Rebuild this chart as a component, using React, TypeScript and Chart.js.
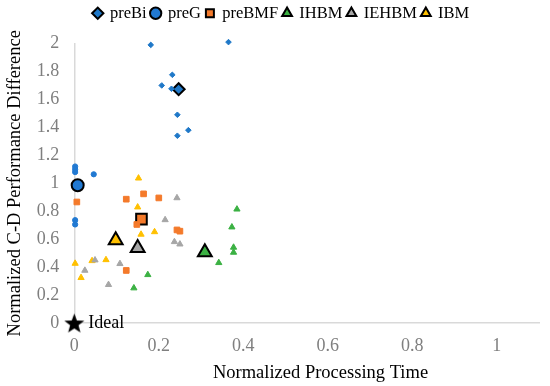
import React, { useEffect, useRef } from "react";
import { Chart, registerables } from "chart.js";

Chart.register(...registerables);

// [x, y] pairs; first entry of each series is the highlighted (average) marker
const preBi: [number, number][] = [
  [0.247, 1.673],
  [0.181, 1.99], [0.365, 2.01], [0.232, 1.776], [0.207, 1.70],
  [0.230, 1.676], [0.244, 1.49], [0.270, 1.38], [0.244, 1.34],
];
const preG: [number, number][] = [
  [0.008, 0.986],
  [0.002, 1.12], [0.002, 1.10], [0.002, 1.08], [0.046, 1.064],
  [0.002, 0.736], [0.002, 0.705],
];
const preBMF: [number, number][] = [
  [0.159, 0.743],
  [0.006, 0.866], [0.123, 0.886], [0.164, 0.924], [0.200, 0.895],
  [0.148, 0.705], [0.243, 0.666], [0.250, 0.657], [0.123, 0.376],
];
const IHBM: [number, number][] = [
  [0.309, 0.507],
  [0.385, 0.814], [0.373, 0.686], [0.377, 0.541], [0.377, 0.505],
  [0.342, 0.431], [0.174, 0.345], [0.141, 0.25],
];
const IEHBM: [number, number][] = [
  [0.150, 0.536],
  [0.243, 0.895], [0.215, 0.738], [0.237, 0.581], [0.250, 0.564],
  [0.049, 0.45], [0.108, 0.424], [0.025, 0.376], [0.081, 0.274],
];
const IBM: [number, number][] = [
  [0.098, 0.593],
  [0.152, 1.036], [0.150, 0.829], [0.190, 0.652], [0.158, 0.634],
  [0.002, 0.426], [0.042, 0.445], [0.075, 0.452], [0.016, 0.324],
];
const ideal: [number, number][] = [[0, 0]];

const xTitle = "Normalized Processing Time";
const yTitle = "Normalized C-D Performance Difference";
const idealLabel = "Ideal";

const FONT = "'Liberation Serif', 'Times New Roman', serif";
Chart.defaults.font.family = FONT;

function makeStar(size: number): HTMLCanvasElement {
  const c = document.createElement("canvas");
  c.width = size;
  c.height = size;
  const ctx = c.getContext("2d")!;
  const cx = size / 2;
  const cy = size / 2 + 1;
  const R = size / 2;
  const r = R * 0.42;
  ctx.beginPath();
  for (let i = 0; i < 10; i++) {
    const rad = -Math.PI / 2 + (i * Math.PI) / 5;
    const rr = i % 2 === 0 ? R : r;
    const px = cx + Math.cos(rad) * rr;
    const py = cy + Math.sin(rad) * rr;
    if (i === 0) ctx.moveTo(px, py);
    else ctx.lineTo(px, py);
  }
  ctx.closePath();
  ctx.fillStyle = "#000";
  ctx.fill();
  return c;
}

function series(
  label: string,
  pts: [number, number][],
  color: string,
  style: string,
  smallR: number,
  bigR: number
) {
  return {
    label,
    data: pts.map(([x, y]) => ({ x, y })),
    pointStyle: style,
    backgroundColor: color,
    pointBackgroundColor: color,
    pointBorderColor: pts.map((_, i) => (i === 0 ? "#000000" : color)),
    pointBorderWidth: pts.map((_, i) => (i === 0 ? 2 : 1)),
    pointRadius: pts.map((_, i) => (i === 0 ? bigR : smallR)),
    pointHoverRadius: pts.map((_, i) => (i === 0 ? bigR : smallR)),
    showLine: false,
    clip: false as const,
  };
}

const idealPlugin = {
  id: "idealLabel",
  afterDatasetsDraw(chart: any) {
    const xs = chart.scales.x;
    const ys = chart.scales.y;
    const px = xs.getPixelForValue(ideal[0][0]);
    const py = ys.getPixelForValue(ideal[0][1]);
    const ctx = chart.ctx;
    ctx.save();
    ctx.font = `18px ${FONT}`;
    ctx.fillStyle = "#000";
    ctx.textBaseline = "middle";
    ctx.textAlign = "left";
    ctx.fillText(idealLabel, px + 14, py);
    ctx.restore();
  },
};

const fmt = (v: any) => String(Math.round(Number(v) * 10) / 10);

export default function App() {
  const ref = useRef<HTMLCanvasElement | null>(null);

  useEffect(() => {
    if (!ref.current) return;
    const star = makeStar(21);
    const chart = new Chart(ref.current, {
      type: "scatter",
      data: {
        datasets: [
          series("preBi", preBi, "#1F78C8", "rectRot", 2.8, 6),
          series("preG", preG, "#2179D2", "circle", 2.6, 6),
          series("preBMF", preBMF, "#F47A2B", "rect", 4, 7.5),
          series("IHBM", IHBM, "#3BB143", "triangle", 3.6, 8),
          series("IEHBM", IEHBM, "#A6A6A6", "triangle", 3.6, 8),
          series("IBM", IBM, "#FFC000", "triangle", 3.6, 8),
          {
            label: "Ideal",
            data: ideal.map(([x, y]) => ({ x, y })),
            pointStyle: star as any,
            pointRadius: 10,
            showLine: false,
            clip: false as const,
          },
        ],
      },
      options: {
        animation: false,
        responsive: true,
        maintainAspectRatio: false,
        layout: { padding: { left: 22, right: 9, top: 0, bottom: 0 } },
        plugins: {
          tooltip: { enabled: false },
          title: {
            display: true,
            text: "",
            position: "top",
            weight: 500,
            padding: 0,
            font: { size: 12, lineHeight: 1 },
          },
          legend: {
            display: true,
            position: "top",
            labels: {
              usePointStyle: true,
              boxWidth: 8,
              boxHeight: 8,
              padding: 5,
              color: "#000",
              font: { family: FONT, size: 16.5 },
              filter: (item: any) => item.text !== "Ideal",
            },
          },
        },
        scales: {
          x: {
            type: "linear",
            min: 0,
            max: 1.1,
            grid: { display: false, drawTicks: false },
            border: { display: true, color: "#D9D9D9", width: 1.5 },
            ticks: {
              stepSize: 0.2,
              includeBounds: false,
              padding: 12,
              color: "#7F7F7F",
              font: { family: FONT, size: 18 },
              callback: fmt,
            },
            title: {
              display: true,
              text: "      " + xTitle,
              color: "#000",
              font: { family: FONT, size: 18.5 },
              padding: { top: 0, bottom: 2 },
            },
            afterFit: (s: any) => {
              s.height = 63;
            },
          },
          y: {
            type: "linear",
            min: 0,
            max: 2,
            grid: { display: false, drawTicks: false },
            border: { display: true, color: "#D9D9D9", width: 1.5 },
            ticks: {
              stepSize: 0.2,
              padding: 15,
              color: "#7F7F7F",
              font: { family: FONT, size: 18 },
              callback: fmt,
            },
            title: {
              display: true,
              text: yTitle,
              color: "#000",
              font: { family: FONT, size: 18.5 },
              padding: { top: -18, bottom: 0 },
            },
            afterFit: (s: any) => {
              s.width = 52.3;
            },
          },
        },
      },
      plugins: [idealPlugin],
    });
    return () => chart.destroy();
  }, []);

  return (
    <div style={{ position: "absolute", left: 0, top: 0, width: 550, height: 386 }}>
      <canvas ref={ref} />
    </div>
  );
}
